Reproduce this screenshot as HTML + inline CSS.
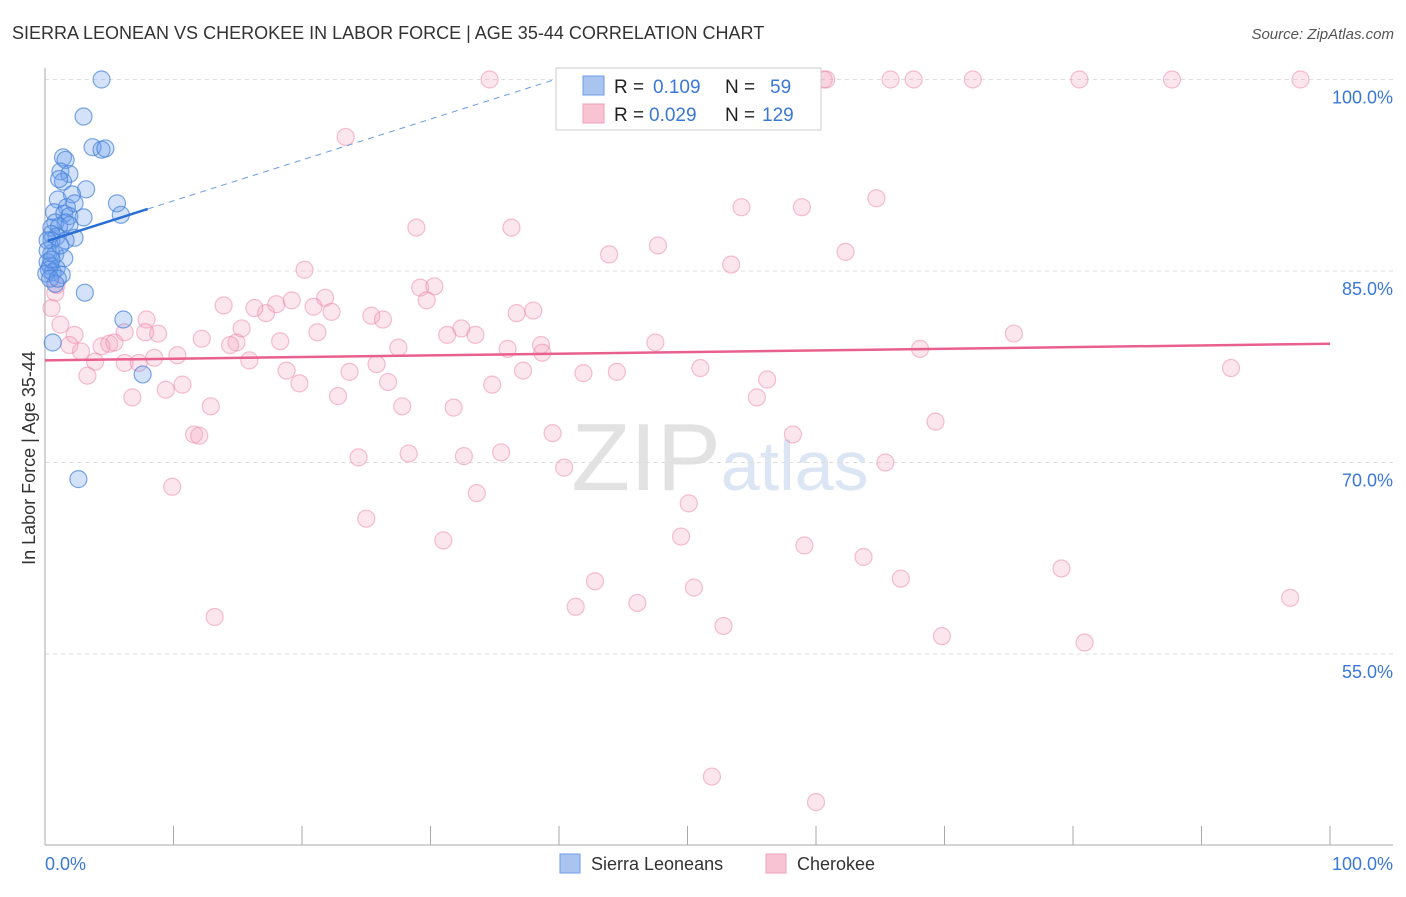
<!DOCTYPE html>
<html><head><meta charset="utf-8">
<style>
body{margin:0;background:#fff;font-family:"Liberation Sans",sans-serif;}
svg text{font-family:"Liberation Sans",sans-serif;}
</style></head>
<body>
<svg id="chart" width="1406" height="892" viewBox="0 0 1406 892" xmlns="http://www.w3.org/2000/svg">
<text x="12" y="39" font-size="18" fill="#333">SIERRA LEONEAN VS CHEROKEE IN LABOR FORCE | AGE 35-44 CORRELATION CHART</text>
<text x="1394" y="39" font-size="15" fill="#555" text-anchor="end" font-style="italic">Source: ZipAtlas.com</text>
<text x="720" y="490" font-size="96" fill="#e4e4e4" text-anchor="middle" font-family="Liberation Serif"><tspan fill="#e2e2e2">ZIP</tspan><tspan fill="#dbe5f4" font-family="Liberation Sans" font-size="70">atlas</tspan></text>
<g id="grid"></g>
<g id="axes"></g>
<g id="pts"></g>
<g id="trend"></g>
<text x="35" y="458" font-size="18" fill="#333" text-anchor="middle" transform="rotate(-90 35 458)">In Labor Force | Age 35-44</text>
<g>
<rect x="556" y="68" width="265" height="62" fill="#fff" stroke="#ccc"/>
<rect x="583" y="76" width="21" height="19" fill="#aac4f0" stroke="#6c9ce6"/>
<rect x="583" y="104" width="21" height="19" fill="#f8c4d4" stroke="#eea0b8"/>
<text x="614" y="93" font-size="19" fill="#222">R = </text><text x="653" y="93" font-size="19" fill="#3a78d8">0.109</text>
<text x="725" y="93" font-size="19" fill="#222">N = </text><text x="770" y="93" font-size="19" fill="#3a78d8">59</text>
<text x="614" y="121" font-size="19" fill="#222">R = </text><text x="649" y="121" font-size="19" fill="#3a78d8">0.029</text>
<text x="725" y="121" font-size="19" fill="#222">N = </text><text x="762" y="121" font-size="19" fill="#3a78d8">129</text>
</g>
<g>
<rect x="560" y="854" width="20" height="19" fill="#aac4f0" stroke="#6c9ce6"/>
<text x="591" y="870" font-size="18" fill="#333">Sierra Leoneans</text>
<rect x="766" y="854" width="20" height="19" fill="#f8c4d4" stroke="#eea0b8"/>
<text x="797" y="870" font-size="18" fill="#333">Cherokee</text>
</g>
</svg>
<script>
const yTicks=[100,85,70,55];
const yTickLabels=["100.0%","85.0%","70.0%","55.0%"];
const xTickLabels=["0.0%","100.0%"];
const blueX=[4.4,3.0,3.7,4.4,4.7,1.4,1.6,1.2,1.9,1.4,1.1,3.2,2.1,1.0,5.6,1.7,2.3,0.7,1.5,1.9,3.0,5.9,1.6,0.8,0.5,1.1,1.9,0.5,0.9,2.3,0.5,1.6,0.5,0.8,1.5,0.2,0.4,0.9,0.3,0.6,0.1,1.3,0.4,0.8,3.1,6.1,0.6,7.6,2.6,0.2,0.2,1.2,0.5,1.0];
const blueY=[100.0,97.1,94.7,94.5,94.6,93.9,93.7,92.8,92.6,92.0,92.2,91.4,91.0,90.6,90.3,90.0,90.3,89.6,89.5,89.3,89.2,89.4,88.8,88.8,88.4,88.5,88.6,87.9,87.7,87.6,87.4,87.4,86.4,86.3,86.0,85.7,85.4,85.2,85.1,84.9,84.8,84.7,84.4,84.0,83.3,81.2,79.4,76.9,68.7,87.4,86.6,87.0,85.9,84.4];
const pinkX=[34.6,52.2,60.8,65.8,67.6,72.2,80.5,87.7,97.7,60.6,23.4,64.7,54.2,58.9,28.9,36.3,47.7,62.3,43.9,53.4,20.2,0.8,0.9,1.2,0.5,13.9,16.3,18.0,19.2,21.8,20.9,22.3,17.2,25.4,26.3,29.2,30.3,29.7,36.7,38.0,32.4,31.3,33.5,15.3,21.2,7.9,8.8,7.8,6.2,2.3,1.9,4.4,5.0,5.4,12.2,14.9,14.4,18.3,27.5,36.0,38.6,47.5,68.1,75.4,2.8,3.9,6.2,7.3,8.5,10.3,15.9,25.8,38.7,3.3,51.0,23.7,18.8,41.9,44.5,37.2,56.2,26.7,34.8,19.8,10.7,9.4,6.8,22.8,12.9,27.8,31.8,55.4,92.3,11.6,12.0,39.5,58.2,69.3,24.4,28.3,32.6,35.5,40.4,65.4,9.9,33.6,50.1,25.0,31.0,49.5,59.1,63.7,79.1,42.8,66.6,41.3,46.1,50.5,13.2,52.8,69.8,80.9,96.9,51.9,60.0];
const pinkY=[100,100,100,100,100,100,100,100,100,100,95.5,90.7,90.0,90.0,88.4,88.4,87.0,86.5,86.3,85.5,85.1,83.3,83.9,80.8,82.1,82.3,82.1,82.4,82.7,82.9,82.2,81.8,81.7,81.5,81.2,83.7,83.8,82.7,81.7,81.9,80.5,80.0,80.0,80.5,80.2,81.2,80.1,80.2,80.2,80.0,79.2,79.1,79.3,79.4,79.7,79.4,79.2,79.5,79.0,78.9,79.2,79.4,78.9,80.1,78.7,77.9,77.8,77.8,78.2,78.4,78.0,77.7,78.6,76.8,77.4,77.1,77.2,77.0,77.1,77.2,76.5,76.3,76.1,76.2,76.1,75.7,75.1,75.2,74.4,74.4,74.3,75.1,77.4,72.2,72.1,72.3,72.2,73.2,70.4,70.7,70.5,70.8,69.6,70.0,68.1,67.6,66.8,65.6,63.9,64.2,63.5,62.6,61.7,60.7,60.9,58.7,59.0,60.2,57.9,57.2,56.4,55.9,59.4,45.4,43.4];
const blueTrend=[87.3,0.32];   // intercept, slope
const pinkTrend=[78.0,0.013];

const NS="http://www.w3.org/2000/svg";
const sx=v=>45+v*12.85;
const sy=v=>79.5+(100-v)*12.767;
function mk(tag,attrs,parent){const e=document.createElementNS(NS,tag);for(const k in attrs)e.setAttribute(k,attrs[k]);parent.appendChild(e);return e;}
const grid=document.getElementById('grid'),axes=document.getElementById('axes'),pts=document.getElementById('pts'),trend=document.getElementById('trend');
yTicks.forEach((t,i)=>{
  const l=mk('line',{x1:45,x2:1393,y1:sy(t),y2:sy(t),stroke:'#ddd','stroke-dasharray':'4 4'},grid);
  
  
  const tx=mk('text',{x:1393,y:sy(t)+24,'font-size':18,fill:'#3a78d8','text-anchor':'end'},axes);
  tx.textContent=yTickLabels[i];
  
  
});
mk('line',{x1:45,x2:45,y1:68,y2:845,stroke:'#aaa'},axes);
mk('line',{x1:45,x2:1393,y1:845,y2:845,stroke:'#aaa'},axes);
for(let i=0;i<=10;i++){mk('line',{x1:sx(i*10),x2:sx(i*10),y1:826,y2:845,stroke:'#aaa'},axes);}
const xl0=mk('text',{x:45,y:870,'font-size':18,fill:'#3a78d8'},axes);xl0.textContent=xTickLabels[0];


const xl1=mk('text',{x:1393,y:870,'font-size':18,fill:'#3a78d8','text-anchor':'end'},axes);xl1.textContent=xTickLabels[1];


pinkX.forEach((x,i)=>{
  const c=mk('circle',{cx:sx(x),cy:sy(pinkY[i]),r:8.5,fill:'rgba(244,160,188,0.26)',stroke:'rgba(236,130,165,0.5)','stroke-width':1.2},pts);
  
  
});
blueX.forEach((x,i)=>{
  const c=mk('circle',{cx:sx(x),cy:sy(blueY[i]),r:8.5,fill:'rgba(110,160,235,0.3)',stroke:'rgba(70,130,220,0.7)','stroke-width':1.2},pts);
  
  
});
const bx0=0.2,bx1=8,bxEnd=(100-blueTrend[0])/blueTrend[1];
const bl=mk('line',{x1:sx(bx0),y1:sy(blueTrend[0]+blueTrend[1]*bx0),x2:sx(bx1),y2:sy(blueTrend[0]+blueTrend[1]*bx1),stroke:'#2a6fd6','stroke-width':2.5},trend);


const bd=mk('line',{x1:sx(bx1),y1:sy(blueTrend[0]+blueTrend[1]*bx1),x2:sx(bxEnd),y2:sy(100),stroke:'#6a9ce6','stroke-width':1,'stroke-dasharray':'6 5'},trend);


const pl=mk('line',{x1:sx(0),y1:sy(pinkTrend[0]),x2:sx(100),y2:sy(pinkTrend[0]+pinkTrend[1]*100),stroke:'#e8608c','stroke-width':2.5},trend);


</script>
</body></html>
